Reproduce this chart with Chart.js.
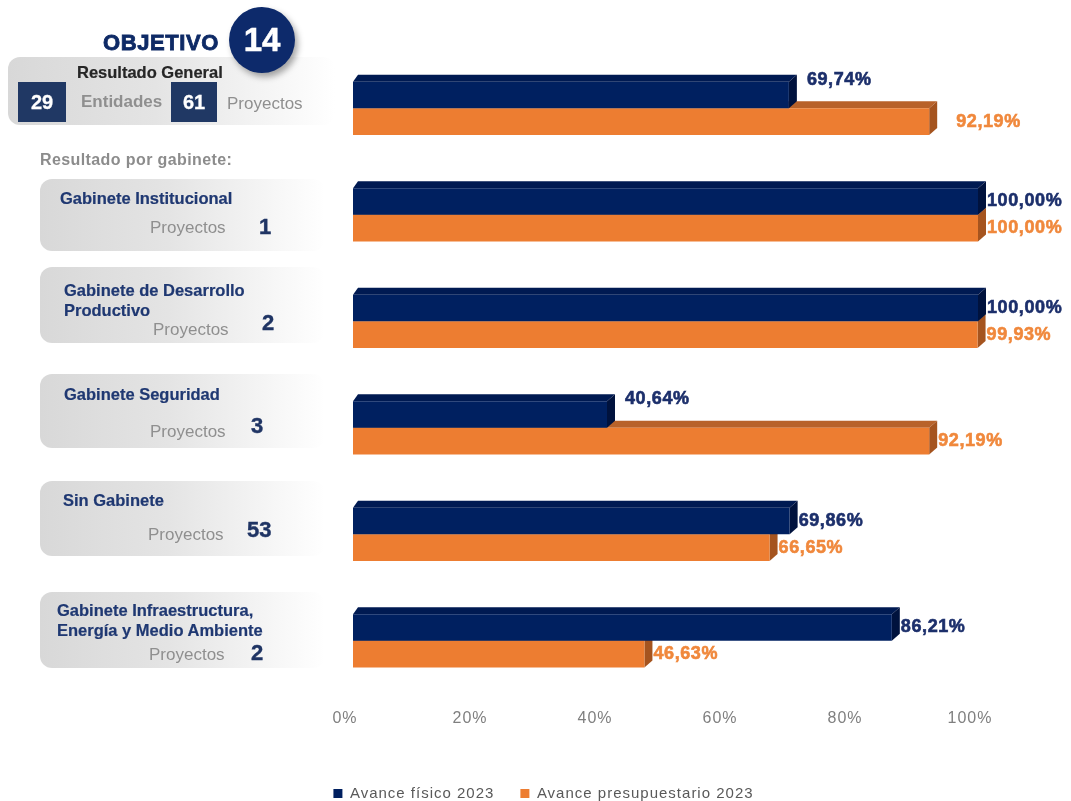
<!DOCTYPE html>
<html lang="es">
<head>
<meta charset="utf-8">
<title>Objetivo 14</title>
<script src="https://cdn.jsdelivr.net/npm/chart.js@4.4.1/dist/chart.umd.min.js"></script>
<style>
  html, body { margin: 0; padding: 0; background: #fff; overflow: hidden; }
  body { width: 1071px; height: 801px; position: relative; font-family: 'Liberation Sans', Arial, sans-serif; }
  #wrap { position: absolute; left: 0; top: 0; width: 1071px; height: 811px; }
  #panel { position: absolute; left: 0; top: 0; width: 350px; height: 801px; }
  .t { position: absolute; white-space: nowrap; line-height: 20px; }
  .caja { position: absolute; border-radius: 12px;
          background: linear-gradient(to right, #d8d8d8 0%, #e4e4e4 45%, #f3f3f3 75%, #ffffff 100%); }
  .cuadro { position: absolute; background: #203864; color: #fff; font-weight: bold; font-size: 20px;
            display: flex; align-items: center; justify-content: center; -webkit-text-stroke: 0.3px #fff; }
  .nombre { color: #1f3872; font-weight: bold; font-size: 16.5px; -webkit-text-stroke: 0.2px #1f3872; }
  .gris { color: #8f8f8f; font-size: 17px; }
  .num { color: #1f3464; font-weight: bold; font-size: 22px; -webkit-text-stroke: 0.4px #1f3464; }
  #circulo { position: absolute; left: 229px; top: 7px; width: 66px; height: 66px; border-radius: 50%;
             background: #0d2a6b; color: #fff; font-weight: bold; font-size: 33px;
             display: flex; align-items: center; justify-content: center; -webkit-text-stroke: 0.5px #fff;
             box-shadow: 3px 4px 6px rgba(0,0,0,0.35); z-index: 2; }
</style>
</head>
<body>
<div id="wrap"><canvas id="grafico"></canvas></div>
<div id="panel"></div>

<script>
// Datos del objetivo
const objetivo = 14;
const totalEntidades = 29;
const totalProyectos = 61;

const categorias = [
  'Resultado General',
  'Gabinete Institucional',
  'Gabinete de Desarrollo\nProductivo',
  'Gabinete Seguridad',
  'Sin Gabinete',
  'Gabinete Infraestructura,\nEnergía y Medio Ambiente'
];
const proyectosGabinete = [1, 2, 3, 53, 2];

const avanceFisico = [69.74, 100.00, 100.00, 40.64, 69.86, 86.21];
const avancePresupuestario = [92.19, 100.00, 99.93, 92.19, 66.65, 46.63];

const ticksX = [0, 20, 40, 60, 80, 100];

// Ubicación de las tarjetas de la izquierda
const cajas = [
  { top: 179, h: 72, nameX: 60, nameY: 198, rowY: 228, labelX: 150, numX: 259, numY: 227 },
  { top: 267, h: 76, nameX: 64, nameY: 290, rowY: 330, labelX: 153, numX: 262, numY: 323 },
  { top: 374, h: 74, nameX: 64, nameY: 394, rowY: 432, labelX: 150, numX: 251, numY: 426 },
  { top: 481, h: 75, nameX: 63, nameY: 500, rowY: 535, labelX: 148, numX: 247, numY: 530 },
  { top: 592, h: 76, nameX: 57, nameY: 610, rowY: 655, labelX: 149, numX: 251, numY: 653 }
];

// ---- Panel izquierdo ----
const panel = document.getElementById('panel');
function addEl(cls, css, html) {
  const d = document.createElement('div');
  d.className = cls;
  Object.assign(d.style, css);
  if (html !== undefined) d.innerHTML = html;
  panel.appendChild(d);
  return d;
}

addEl('t', { left: '103px', top: '31px', fontSize: '22px', fontWeight: 'bold', color: '#0e2a66',
             letterSpacing: '0.6px', lineHeight: '24px', webkitTextStroke: '0.8px #0e2a66' }, 'OBJETIVO');
const circ = document.createElement('div');
circ.id = 'circulo';
circ.textContent = objetivo;
panel.appendChild(circ);

addEl('caja', { left: '8px', top: '57px', width: '327px', height: '68px' });
addEl('t', { left: '77px', top: '62px', fontSize: '16.5px', fontWeight: 'bold', color: '#262626',
             webkitTextStroke: '0.2px #262626' }, categorias[0]);
addEl('cuadro', { left: '18px', top: '82px', width: '48px', height: '40px' }, totalEntidades);
addEl('t gris', { left: '81px', top: '92px', fontWeight: 'bold' }, 'Entidades');
addEl('cuadro', { left: '171px', top: '82px', width: '46px', height: '40px' }, totalProyectos);
addEl('t gris', { left: '227px', top: '94px' }, 'Proyectos');

addEl('t', { left: '40px', top: '150px', fontSize: '16px', fontWeight: 'bold', color: '#8c8c8c',
             letterSpacing: '0.4px' }, 'Resultado por gabinete:');

cajas.forEach((c, i) => {
  addEl('caja', { left: '40px', top: c.top + 'px', width: '285px', height: c.h + 'px' });
  addEl('t nombre', { left: c.nameX + 'px', top: (c.nameY - 10) + 'px' },
        categorias[i + 1].replace('\n', '<br>'));
  addEl('t gris', { left: c.labelX + 'px', top: (c.rowY - 10) + 'px' }, 'Proyectos');
  addEl('t num', { left: c.numX + 'px', top: (c.numY - 10) + 'px' }, proyectosGabinete[i]);
});

// ---- Gráfico de barras con efecto 3D ----
const fmt = v => v.toFixed(2).replace('.', ',') + '%';
const depthX = 8, depthY = 7, depthLeft = 5;

const colores = [
  { front: '#002060', top: '#001a52', side: '#00123d', label: '#1c2f6b' },
  { front: '#ed7d31', top: '#b8622a', side: '#a5541f', label: '#f0883c' }
];

const spacing = {
  id: 'spacing',
  beforeUpdate(chart) { chart.ctx.letterSpacing = '1px'; },
  beforeDraw(chart) { chart.ctx.letterSpacing = '1px'; }
};

const bar3d = {
  id: 'bar3d',
  beforeDatasetDraw(chart, args) {
    const ctx = chart.ctx;
    const col = colores[args.index];
    ctx.save();
    args.meta.data.forEach(bar => {
      const top = bar.y - bar.height / 2;
      const bottom = bar.y + bar.height / 2;
      const x0 = bar.base, x1 = bar.x;
      // cara superior
      ctx.fillStyle = col.top;
      ctx.beginPath();
      ctx.moveTo(x0, top);
      ctx.lineTo(x0 + depthLeft, top - depthY);
      ctx.lineTo(x1 + depthX, top - depthY);
      ctx.lineTo(x1, top);
      ctx.closePath();
      ctx.fill();
      // cara lateral
      ctx.fillStyle = col.side;
      ctx.beginPath();
      ctx.moveTo(x1, top);
      ctx.lineTo(x1 + depthX, top - depthY);
      ctx.lineTo(x1 + depthX, bottom - depthY);
      ctx.lineTo(x1, bottom);
      ctx.closePath();
      ctx.fill();
    });
    ctx.restore();
  }
};

const etiquetas = {
  id: 'etiquetas',
  afterDatasetsDraw(chart) {
    const ctx = chart.ctx;
    ctx.save();
    ctx.font = "bold 18px 'Liberation Sans', Arial, sans-serif";
    ctx.textAlign = 'left';
    ctx.textBaseline = 'middle';
    ctx.letterSpacing = '0.6px';
    ctx.lineWidth = 0.6;
    chart.data.datasets.forEach((ds, di) => {
      const meta = chart.getDatasetMeta(di);
      meta.data.forEach((bar, i) => {
        let x = bar.x + depthX + 1;
        let y = bar.y;
        const otra = di === 0 ? avancePresupuestario[i] : avanceFisico[i];
        // la etiqueta superior sube cuando la barra inferior es más larga
        if (di === 0 && otra - ds.data[i] > 5) {
          y -= 15;
          x += 9;
        }
        // la inferior se separa cuando la superior es mucho más corta
        if (di === 1 && ds.data[i] - otra > 20 && ds.data[i] - otra < 30) x += 18;
        ctx.fillStyle = colores[di].label;
        ctx.strokeStyle = colores[di].label;
        const txt = fmt(ds.data[i]);
        ctx.fillText(txt, x, y);
        ctx.strokeText(txt, x, y);
      });
    });
    ctx.restore();
  }
};

Chart.defaults.font.family = "'Liberation Sans', Arial, sans-serif";

new Chart(document.getElementById('grafico'), {
  type: 'bar',
  data: {
    labels: categorias.map(c => c.replace('\n', ' ')),
    datasets: [
      {
        label: 'Avance físico 2023',
        data: avanceFisico,
        backgroundColor: colores[0].front,
        borderWidth: 0,
        categoryPercentage: 0.5,
        barPercentage: 1.0
      },
      {
        label: 'Avance presupuestario 2023',
        data: avancePresupuestario,
        backgroundColor: colores[1].front,
        borderWidth: 0,
        categoryPercentage: 0.5,
        barPercentage: 1.0
      }
    ]
  },
  options: {
    indexAxis: 'y',
    responsive: true,
    maintainAspectRatio: false,
    animation: false,
    layout: { padding: { top: 55, left: 16, right: 0, bottom: 0 } },
    plugins: {
      tooltip: { enabled: false },
      legend: {
        position: 'bottom',
        labels: {
          boxWidth: 9,
          boxHeight: 9,
          padding: 26,
          color: '#595959',
          font: { size: 15 }
        }
      }
    },
    scales: {
      x: {
        min: 0,
        max: 100,
        afterBuildTicks(axis) { axis.ticks = ticksX.map(v => ({ value: v })); },
        afterFit(axis) { axis.height = 66; },
        grid: { display: false, drawTicks: false },
        border: { display: false },
        ticks: {
          callback: v => v + '%',
          color: '#7f7f7f',
          font: { size: 16 },
          padding: 15,
          labelOffset: -8
        }
      },
      y: {
        position: 'left',
        afterFit(axis) { axis.width = 337; },
        grid: { display: false, drawTicks: false },
        border: { display: false },
        ticks: { display: false }
      },
      y2: {
        type: 'category',
        position: 'right',
        afterFit(axis) { axis.width = 93; },
        grid: { display: false, drawTicks: false },
        border: { display: false },
        ticks: { display: false }
      }
    }
  },
  plugins: [spacing, bar3d, etiquetas]
});
</script>
</body>
</html>
